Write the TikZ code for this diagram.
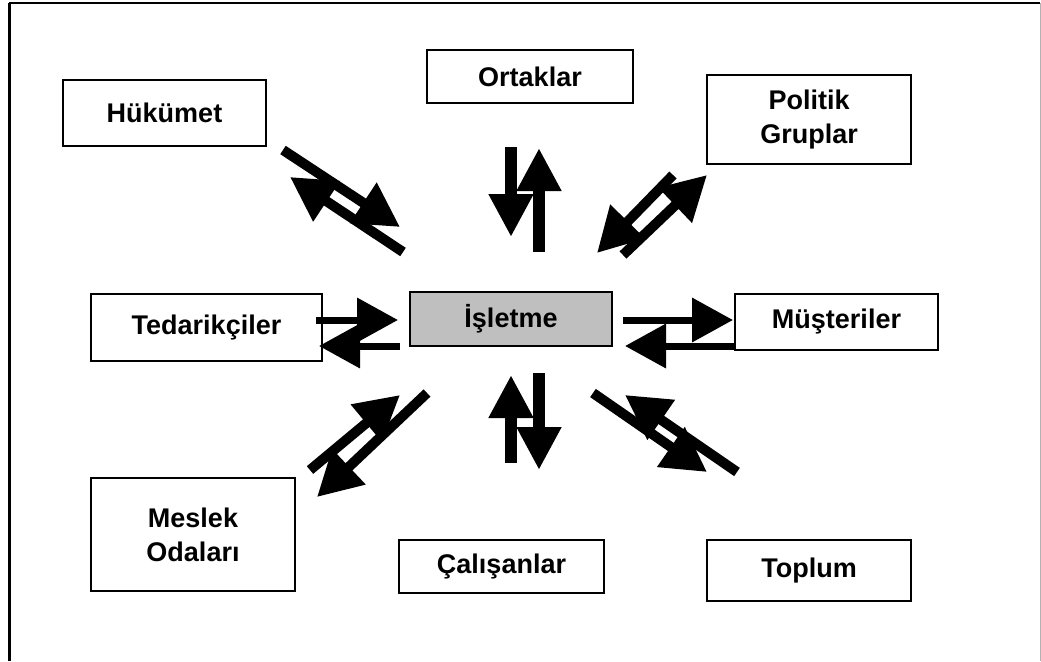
\documentclass[tikz,border=0pt]{standalone}
\usepackage{fontspec}
\setmainfont{Liberation Sans}
\usetikzlibrary{arrows.meta}
\begin{document}
\begin{tikzpicture}[x=1pt,y=-1pt,
  box/.style={draw=black,line width=2.5pt,minimum width=#1,inner sep=0pt,align=center,
    font=\fontsize{27}{34}\selectfont\bfseries},
  blk/.style={line width=#1,-{Triangle[length=43pt,width=42pt]}},
  blkh/.style={line width=#1,-{Triangle[length=41pt,width=43pt]}},
  blkd/.style={line width=#1,-{Triangle[length=44pt,width=46pt]}}]
\useasboundingbox (0,0) rectangle (1041,661);
% outer frame
\draw[line width=3pt] (9,661) -- (9,3);
\draw[line width=2pt] (9,3) -- (1040,3);
\draw[line width=1pt,gray!60] (1040,3) -- (1040,661);
% boxes
\node[box=203pt,minimum height=66pt] (huk) at (164.5,113) {Hükümet};
\node[box=206pt,minimum height=53pt] (ort) at (530,76.5) {Ortaklar};
\node[box=204pt,minimum height=89pt] (pol) at (809,119.5) {Politik\\Gruplar};
\node[box=231pt,minimum height=67pt] (ted) at (206.5,327.5) {Tedarikçiler};
\node[box=202pt,minimum height=54pt,fill=black!25] (isl) at (511,319) {İşletme};
\node[box=203pt,minimum height=56pt] (mus) at (836.5,322) {Müşteriler};
\node[box=204pt,minimum height=113pt] (mes) at (193,534.5) {Meslek\\Odaları};
\node[box=205pt,minimum height=53pt] (cal) at (501.5,566.5) {Çalışanlar};
\node[box=204pt,minimum height=61pt] (top) at (809,570.5) {Toplum};
% arrow end points
\coordinate (a1s) at (511,147); \coordinate (a1e) at (511,237);
\coordinate (a2s) at (539,252); \coordinate (a2e) at (539,148);
\coordinate (b1s) at (511,463); \coordinate (b1e) at (511,375);
\coordinate (b2s) at (539,373); \coordinate (b2e) at (539,470);
\coordinate (c1s) at (316,320); \coordinate (c1e) at (398,320);
\coordinate (c2s) at (400,346); \coordinate (c2e) at (319,346);
\coordinate (d1s) at (623,320); \coordinate (d1e) at (733,320);
\coordinate (d2s) at (735,346); \coordinate (d2e) at (625,346);
\coordinate (e1s) at (283,150); \coordinate (e1e) at (400,227);
\coordinate (e2s) at (403,252); \coordinate (e2e) at (290,177);
\coordinate (f1s) at (673,175); \coordinate (f1e) at (597,253);
\coordinate (f2s) at (623,255); \coordinate (f2e) at (707,175);
\coordinate (g1s) at (310,470); \coordinate (g1e) at (400,395);
\coordinate (g2s) at (427,393); \coordinate (g2e) at (317,497);
\coordinate (h1s) at (593,393); \coordinate (h1e) at (707,472);
\coordinate (h2s) at (737,472); \coordinate (h2e) at (625,395);
% arrows
\draw[blk=12pt] (a1s) -- (a1e);
\draw[blk=12pt] (a2s) -- (a2e);
\draw[blk=12pt] (b1s) -- (b1e);
\draw[blk=12pt] (b2s) -- (b2e);
\draw[blkh=7pt] (c1s) -- (c1e);
\draw[blkh=7pt] (c2s) -- (c2e);
\draw[blkh=7pt] (d1s) -- (d1e);
\draw[blkh=7pt] (d2s) -- (d2e);
\draw[blkd=10pt] (e1s) -- (e1e);
\draw[blkd=10pt] (e2s) -- (e2e);
\draw[blkd=10pt] (f1s) -- (f1e);
\draw[blkd=10pt] (f2s) -- (f2e);
\draw[blkd=10pt] (g1s) -- (g1e);
\draw[blkd=10pt] (g2s) -- (g2e);
\draw[blkd=10pt] (h1s) -- (h1e);
\draw[blkd=10pt] (h2s) -- (h2e);
\end{tikzpicture}
\end{document}
